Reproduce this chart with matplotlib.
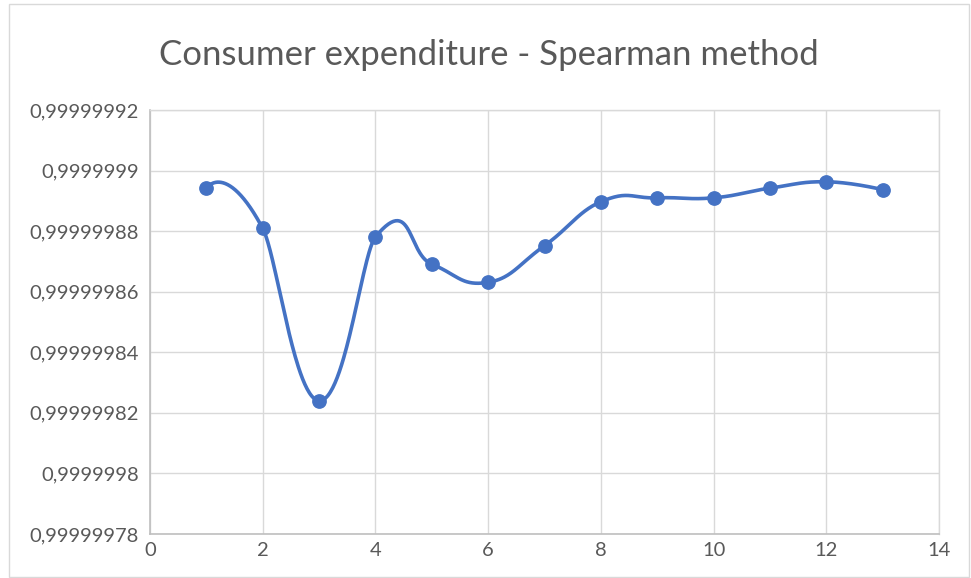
import numpy as np
import matplotlib
matplotlib.use("Agg")
import matplotlib.pyplot as plt
from matplotlib.ticker import FuncFormatter, FixedLocator
from matplotlib.patches import Rectangle

# ---- data ----
x_vals = [1, 2, 3, 4, 5, 6, 7, 8, 9, 10, 11, 12, 13]
y_vals = [0.9999998942, 0.9999998809, 0.9999998240, 0.9999998781,
          0.9999998691, 0.9999998631, 0.9999998752, 0.9999998897,
          0.9999998910, 0.9999998910, 0.9999998942, 0.9999998963,
          0.9999998937]
x_ticks = [0, 2, 4, 6, 8, 10, 12, 14]
y_ticks = [0.99999978, 0.99999980, 0.99999982, 0.99999984,
           0.99999986, 0.99999988, 0.99999990, 0.99999992]
title = "Consumer expenditure - Spearman method"

FONT = ["Lato", "DejaVu Sans"]
plt.rcParams['font.family'] = FONT

W, H = 971, 578
fig = plt.figure(figsize=(W / 100, H / 100), dpi=100)
fig.patch.set_facecolor("white")

# outer chart border
fig.add_artist(Rectangle((9 / W, 1 - 577 / H), (969 - 9) / W, (577 - 4) / H,
                         transform=fig.transFigure, fill=False,
                         edgecolor="#D9D9D9", linewidth=1.0))

L, R, T, B = 150, 939, 110, 534
ax = fig.add_axes([L / W, 1 - B / H, (R - L) / W, (B - T) / H])
ax.set_xlim(x_ticks[0], x_ticks[-1])
ax.set_ylim(y_ticks[0], y_ticks[-1])

ax.xaxis.set_major_locator(FixedLocator(x_ticks))
ax.yaxis.set_major_locator(FixedLocator(y_ticks))

def yfmt(v, pos):
    s = f"{v:.8f}".rstrip("0")
    return s.replace(".", ",")

ax.yaxis.set_major_formatter(FuncFormatter(yfmt))
ax.xaxis.set_major_formatter(FuncFormatter(lambda v, p: f"{int(round(v))}"))

ax.grid(True, color="#D9D9D9", linewidth=1.0)
ax.set_axisbelow(True)
for s in ["top", "right"]:
    ax.spines[s].set_color("#D9D9D9")
    ax.spines[s].set_linewidth(1.0)
for s in ["left", "bottom"]:
    ax.spines[s].set_color("#BFBFBF")
    ax.spines[s].set_linewidth(1.2)
ax.tick_params(length=0, labelsize=14.5, colors="#595959")
ax.tick_params(axis="y", pad=8)
ax.tick_params(axis="x", pad=6)

# ---- smoothed line (Excel-like bezier, computed in display space) ----
pts = ax.transData.transform(np.column_stack([x_vals, y_vals]))
n = len(pts)
s_t = 0.45

def dist(a, b):
    return float(np.hypot(*(a - b)))

handles_in = []
handles_out = []
for i in range(n):
    p_prev = pts[i - 1] if i > 0 else pts[i]
    p_next = pts[i + 1] if i < n - 1 else pts[i]
    d_in = dist(p_prev, pts[i])
    d_out = dist(pts[i], p_next)
    chord = p_next - p_prev
    tot = d_in + d_out
    handles_out.append(s_t * chord * (d_in / tot))
    handles_in.append(s_t * chord * (d_out / tot))

curve = []
for i in range(n - 1):
    p1, p2 = pts[i], pts[i + 1]
    c1 = p1 + handles_out[i]
    c2 = p2 - handles_in[i + 1]
    t = np.linspace(0, 1, 60)[:, None]
    seg = ((1 - t) ** 3) * p1 + 3 * ((1 - t) ** 2) * t * c1 + 3 * (1 - t) * t ** 2 * c2 + t ** 3 * p2
    if i > 0:
        seg = seg[1:]
    curve.append(seg)
curve = np.vstack(curve)
curve_data = ax.transData.inverted().transform(curve)

blue = "#4472C4"
ax.plot(curve_data[:, 0], curve_data[:, 1], color=blue, linewidth=2.6,
        solid_capstyle="round", solid_joinstyle="round", zorder=3)
ax.plot(x_vals, y_vals, linestyle="none", marker="o", markersize=9.6,
        color=blue, zorder=4)

fig.text(489 / W, 1 - 65 / H, title, ha="center", va="baseline",
         fontsize=25, color="#595959")

fig.savefig("out.png", dpi=100, facecolor="white")
